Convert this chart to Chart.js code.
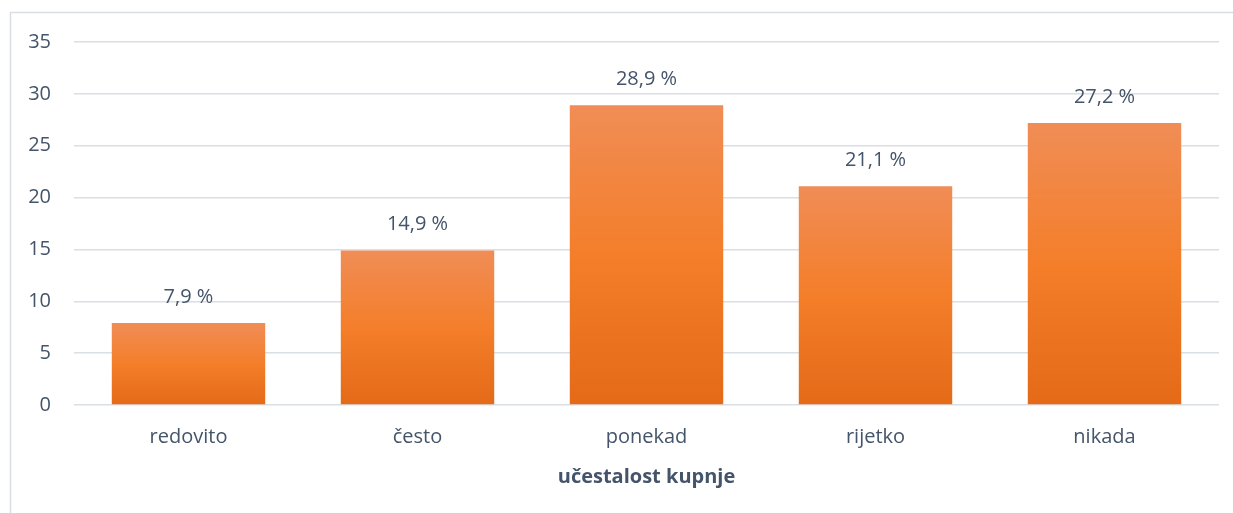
<!DOCTYPE html>
<html lang="hr">
<head>
    <meta charset="UTF-8">
    <title>Učestalost kupnje</title>
    <script src="https://cdn.jsdelivr.net/npm/chart.js"></script>
    <style>
        html, body { margin: 0; padding: 0; background: #fff; }
        #wrap { width: 1233px; height: 513px; position: relative; overflow: hidden; }
    </style>
</head>
<body>
<div id="wrap">
    <canvas id="freqChart" width="1233" height="513"></canvas>
</div>

<script>
    const categories = ['redovito', 'često', 'ponekad', 'rijetko', 'nikada'];
    const percentages = [7.9, 14.9, 28.9, 21.1, 27.2];
    const axisTitle = 'učestalost kupnje';

    const textColor = '#44546A';
    const fontFamily = '"Open Sans", "Noto Sans", sans-serif';

    function barGradient(context) {
        const chart = context.chart;
        const area = chart.chartArea;
        if (!area || !chart.scales.y) return '#F47F2A';
        const top = chart.scales.y.getPixelForValue(percentages[context.dataIndex]);
        const g = chart.ctx.createLinearGradient(0, top, 0, area.bottom);
        g.addColorStop(0, '#F08D56');
        g.addColorStop(0.5, '#F47E2A');
        g.addColorStop(1, '#E46A18');
        return g;
    }

    // frame around the whole chart, like the Excel chart border
    const framePlugin = {
        id: 'frame',
        beforeDraw(chart) {
            const c = chart.ctx;
            c.save();
            c.strokeStyle = '#D9DEE5';
            c.lineWidth = 1.5;
            c.strokeRect(10.5, 12.5, 1300, 600);
            c.restore();
        }
    };

    // value labels above bars
    const valueLabels = {
        id: 'valueLabels',
        afterDatasetsDraw(chart) {
            const c = chart.ctx;
            const meta = chart.getDatasetMeta(0);
            c.save();
            c.fillStyle = textColor;
            c.font = '20px ' + fontFamily;
            c.textAlign = 'center';
            c.textBaseline = 'middle';
            meta.data.forEach((bar, i) => {
                const txt = percentages[i].toFixed(1).replace('.', ',') + ' %';
                c.fillText(txt, bar.x, bar.y - 26);
            });
            c.restore();
        }
    };

    new Chart(document.getElementById('freqChart').getContext('2d'), {
        type: 'bar',
        data: {
            labels: categories,
            datasets: [{
                data: percentages,
                backgroundColor: barGradient,
                borderWidth: 0,
                categoryPercentage: 1,
                barPercentage: 0.67
            }]
        },
        options: {
            responsive: false,
            animation: false,
            layout: { padding: { left: 0, top: 42, right: 14, bottom: 0 } },
            plugins: {
                legend: { display: false },
                tooltip: { enabled: false }
            },
            scales: {
                x: {
                    grid: { display: false, drawTicks: false },
                    border: { display: false },
                    ticks: {
                        color: textColor,
                        font: { family: fontFamily, size: 20 },
                        padding: 20
                    },
                    title: {
                        display: true,
                        text: axisTitle,
                        color: textColor,
                        font: { family: fontFamily, size: 20, weight: 'bold' },
                        padding: { top: 0, bottom: 24 }
                    },
                    afterFit(scale) { scale.height = 108; }
                },
                y: {
                    min: 0,
                    max: 35,
                    ticks: {
                        stepSize: 5,
                        color: textColor,
                        font: { family: fontFamily, size: 20 },
                        padding: 23
                    },
                    grid: { color: '#DADEE5', lineWidth: 1.5, drawTicks: false },
                    border: { display: false },
                    afterFit(scale) { scale.width = 74; }
                }
            }
        },
        plugins: [framePlugin, valueLabels]
    });
</script>
</body>
</html>
